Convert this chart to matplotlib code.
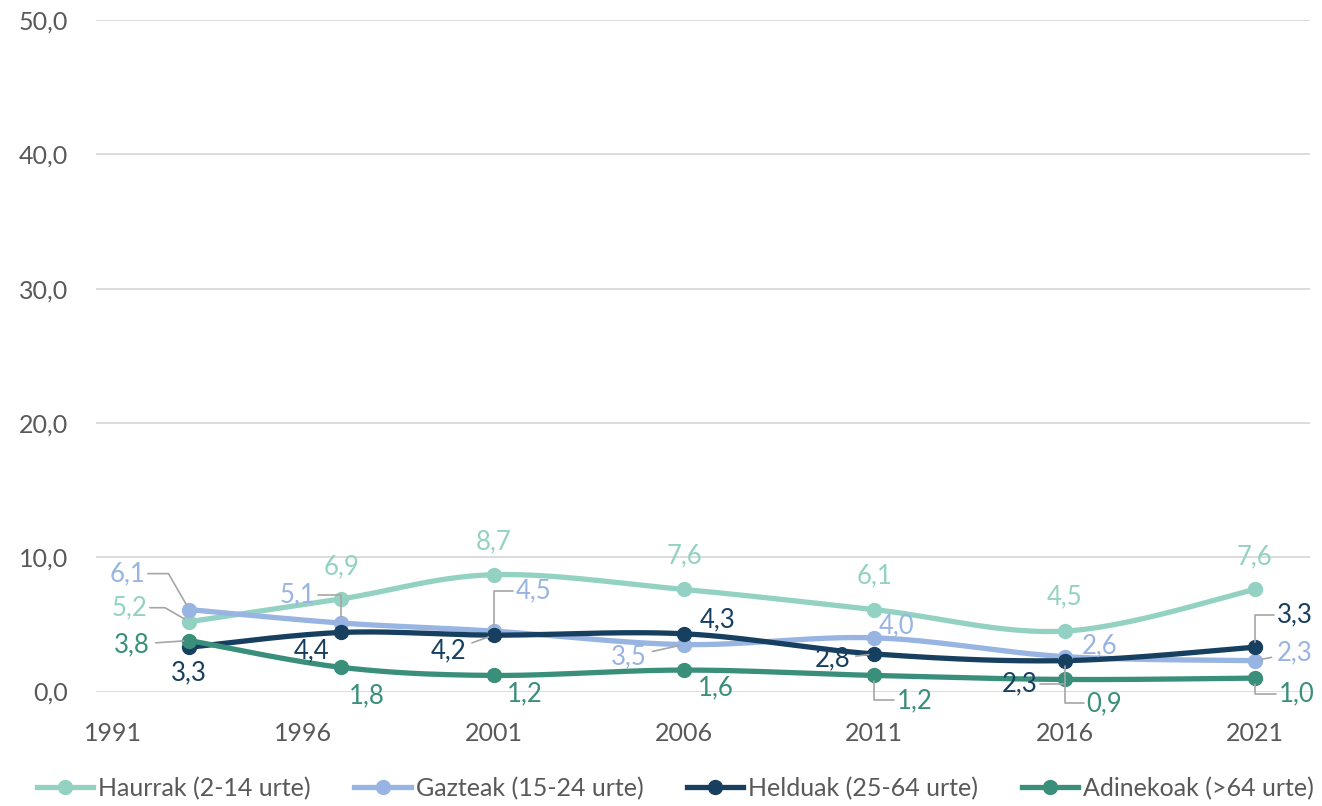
import numpy as np
import matplotlib.pyplot as plt
from matplotlib.lines import Line2D

plt.rcParams['font.family'] = ['Lato', 'DejaVu Sans']

years = [1993, 1997, 2001, 2006, 2011, 2016, 2021]
xticks = [1991, 1996, 2001, 2006, 2011, 2016, 2021]

haurrak = [5.2, 6.9, 8.7, 7.6, 6.1, 4.5, 7.6]
gazteak = [6.1, 5.1, 4.5, 3.5, 4.0, 2.6, 2.3]
helduak = [3.3, 4.4, 4.2, 4.3, 2.8, 2.3, 3.3]
adinekoak = [3.8, 1.8, 1.2, 1.6, 1.2, 0.9, 1.0]

names = ['Haurrak (2-14 urte)', 'Gazteak (15-24 urte)', 'Helduak (25-64 urte)', 'Adinekoak (>64 urte)']
colors = ['#93d2c3', '#97b4e2', '#173f5f', '#3a8f7b']

# label offsets in pixels (dx, dy with y down), leader: None, 'S' straight, or angle
offs = [
    [(-60, -14, 150), (0, -32, None), (0, -33, None), (0, -34, None), (0, -34, None), (0, -34, None), (0, -33, None)],
    [(-62, -36, 120), (-44, -28, 90), (40, -40, 90), (-55, 12, 'S'), (22, -12, None), (35, -11, None), (40, -8, 'S')],
    [(0, 26, None), (-30, 18, None), (-45, 16, 'S'), (34, -14, None), (-42, 5, 'S'), (-45, 23, 270), (40, -32, 90)],
    [(-57, 4, 'S'), (25, 28, None), (31, 18, None), (32, 18, None), (40, 25, 270), (40, 24, 270), (42, 16, 270)],
]


def smooth(x, y, n=30):
    # catmull-rom through the points
    p = np.column_stack([x, y]).astype(float)
    p = np.vstack([p[0], p, p[-1]])
    out = []
    for i in range(1, len(p) - 2):
        p0, p1, p2, p3 = p[i - 1], p[i], p[i + 1], p[i + 2]
        t = np.linspace(0, 1, n)[:, None]
        seg = 0.5 * ((2 * p1) + (-p0 + p2) * t + (2 * p0 - 5 * p1 + 4 * p2 - p3) * t ** 2
                     + (-p0 + 3 * p1 - 3 * p2 + p3) * t ** 3)
        out.append(seg)
    s = np.vstack(out)
    return s[:, 0], s[:, 1]


fig = plt.figure(figsize=(13.22, 8.06), dpi=100)
ax = fig.add_axes([0.0726, 0.142, 0.9184, 0.8332])

series = [haurrak, gazteak, helduak, adinekoak]
k = 0.72
for vals, col, name, off in zip(series, colors, names, offs):
    sx, sy = smooth(years, vals)
    ax.plot(sx, sy, color=col, lw=3.8, solid_capstyle='round', zorder=3)
    ax.plot(years, vals, 'o', color=col, ms=10, zorder=4)
    for xv, yv, (dx, dy, ang) in zip(years, vals, off):
        txt = ('%.1f' % yv).replace('.', ',')
        ap = None
        if ang == 'S':
            ap = dict(arrowstyle='-', color='#a6a6a6', lw=1.2, shrinkA=2, shrinkB=4)
        elif ang is not None:
            ap = dict(arrowstyle='-', color='#a6a6a6', lw=1.2, shrinkA=0, shrinkB=4,
                      connectionstyle='angle,angleA=0,angleB=%d,rad=0' % ang)
        ax.annotate(txt, (xv, yv), xytext=(dx * k, -dy * k), textcoords='offset points',
                    ha='center', va='center', fontsize=18.5, color=col, zorder=5,
                    arrowprops=ap)

ax.set_xlim(1990.55, 2022.45)
ax.set_ylim(0, 50)
ax.set_xticks(xticks)
ax.set_yticks([0, 10, 20, 30, 40, 50])
ax.set_yticklabels(['0,0', '10,0', '20,0', '30,0', '40,0', '50,0'])
ax.tick_params(length=0, labelsize=18, labelcolor='#595959')
ax.tick_params(axis='x', pad=22)
ax.tick_params(axis='y', pad=20)
ax.grid(axis='y', color='#d9d9d9', lw=1.3)
ax.set_axisbelow(True)
for s in ax.spines.values():
    s.set_visible(False)

handles = [Line2D([], [], color=c, lw=3.8, marker='o', ms=10) for c in colors]
fig.legend(handles, names, loc='center', bbox_to_anchor=(0.511, 0.022), ncol=4, frameon=False,
           fontsize=18, labelcolor='#595959', handlelength=2.25, handletextpad=0.2, columnspacing=1.75)

fig.savefig('out.png', dpi=100)
